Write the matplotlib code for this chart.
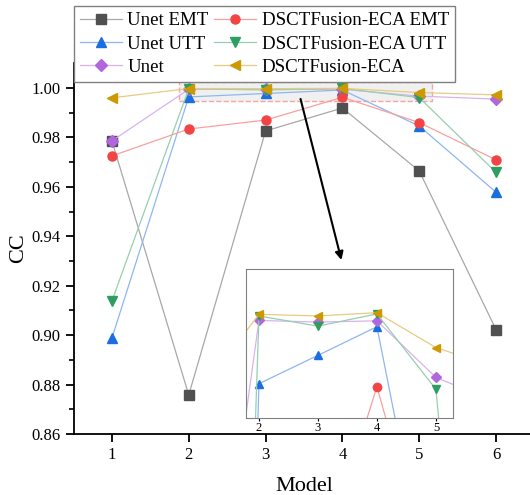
import numpy as np
import matplotlib
matplotlib.use("Agg")
import matplotlib.pyplot as plt

plt.rcParams['font.family'] = ['Liberation Serif', 'DejaVu Serif']

# x positions (model index)
models = [1, 2, 3, 4, 5, 6]

# CC values
unet_emt = [0.9786, 0.8758, 0.9826, 0.9919, 0.9664, 0.9022]
unet_utt = [0.8988, 0.99638, 0.99777, 0.99917, 0.9846, 0.9578]
unet = [0.9786, 0.99948, 0.9994, 0.99946, 0.99669, 0.9955]
dsct_emt = [0.9725, 0.9834, 0.9870, 0.99623, 0.9860, 0.9709]
dsct_utt = [0.9138, 0.9997, 0.9992, 0.9998, 0.99611, 0.9658]
dsct = [0.9960, 0.99978, 0.9997, 0.99986, 0.99815, 0.9972]

series = [
    ("Unet EMT", unet_emt, 's', '#505050', '#a8a8a8'),
    ("Unet UTT", unet_utt, '^', '#1a6ee0', '#8fb6f0'),
    ("Unet", unet, 'D', '#b266dd', '#d8b3ee'),
    ("DSCTFusion-ECA EMT", dsct_emt, 'o', '#f24444', '#f8a0a0'),
    ("DSCTFusion-ECA UTT", dsct_utt, 'v', '#2e9e60', '#96cfb0'),
    ("DSCTFusion-ECA", dsct, '<', '#cc9a00', '#e6cc80'),
]

W, H = 530, 495
fig = plt.figure(figsize=(W / 100, H / 100), dpi=100)
ax = fig.add_axes([73.5 / W, 1 - 434 / H, 461 / W, (434 - 63) / H])

handles = []
for name, vals, mk, mc, lc in series:
    h, = ax.plot(models, vals, color=lc, lw=0.9, marker=mk, ms=6.5 if mk != 'D' else 5.8,
                 mfc=mc, mec=mc, label=name)
    handles.append(h)

ax.set_xlim(0.5, 6.5)
ax.set_ylim(0.86, 1.0101)
ax.set_xticks(models)
ax.set_yticks(np.arange(0.86, 1.001, 0.02))
ax.set_yticks(np.arange(0.87, 1.001, 0.02), minor=True)
ax.yaxis.set_major_formatter(matplotlib.ticker.FormatStrFormatter('%.2f'))
ax.spines['top'].set_visible(False)
ax.spines['right'].set_visible(False)
ax.spines['left'].set_linewidth(1.3)
ax.spines['bottom'].set_linewidth(1.3)
ax.tick_params(axis='both', which='major', direction='out', length=6, width=1.3, labelsize=12)
ax.tick_params(axis='y', which='minor', direction='out', length=3.5, width=1.2)
ax.set_xlabel("Model", fontsize=16, labelpad=10)
ax.set_ylabel("CC", fontsize=16, labelpad=2)

# zoom region marker
rect = plt.Rectangle((1.874, 0.99462), 5.16 - 1.874, 1.0023 - 0.99462,
                     facecolor='#e6e6e6', alpha=0.6, edgecolor='#f07070',
                     linestyle='--', lw=1.0, zorder=1)
ax.add_patch(rect)
ax.annotate("", xy=(3.987, 0.9304), xytext=(3.455, 0.99555),
            arrowprops=dict(arrowstyle='-|>', color='black', lw=1.5,
                            mutation_scale=12, shrinkA=0, shrinkB=0), zorder=5)

fig.legend(handles=handles, ncol=2, loc='upper left',
           bbox_to_anchor=(74 / W, 1 - 6 / H), fontsize=13.6,
           frameon=True, fancybox=False, edgecolor='#808080', framealpha=1,
           handlelength=2.2, columnspacing=0.3, labelspacing=0.32,
           borderpad=0.32, handletextpad=0.3, borderaxespad=0)

# inset
axi = fig.add_axes([246 / W, 1 - 418 / H, 207 / W, 149 / H])
for name, vals, mk, mc, lc in series:
    axi.plot(models, vals, color=lc, lw=0.9, marker=mk, ms=6 if mk != 'D' else 5.5,
             mfc=mc, mec=mc)
axi.set_xlim(1.78, 5.29)
axi.set_ylim(0.9947, 1.002)
axi.set_xticks([2, 3, 4, 5])
axi.set_yticks([])
axi.tick_params(axis='x', length=2, labelsize=9, pad=1)
for s in axi.spines.values():
    s.set_color('#808080')

fig.savefig("out.png", dpi=100)
